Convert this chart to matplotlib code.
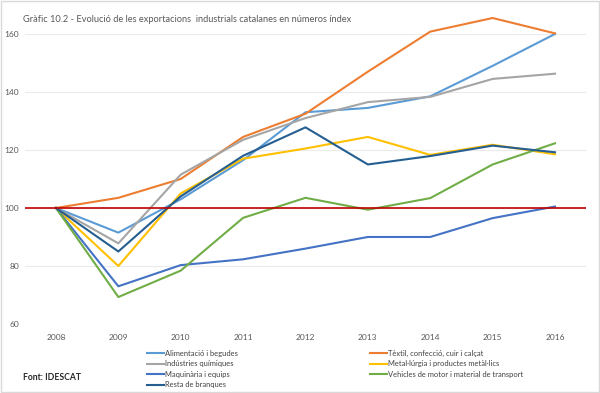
import matplotlib.pyplot as plt
from matplotlib.patches import Rectangle

plt.rcParams['font.family'] = ['Lato', 'DejaVu Sans']

# Dades (números índex, 2008 = 100)
anys = ['2008', '2009', '2010', '2011', '2012', '2013', '2014', '2015', '2016']
alimentacio = [100, 91.5, 103, 116.5, 133, 134.5, 138.5, 149, 160]
textil = [100, 103.5, 110, 124.5, 132.5, 147, 160.8, 165.5, 160.2]
quimiques = [100, 87.8, 111.5, 123.5, 131, 136.5, 138.3, 144.5, 146.3]
metallurgia = [100, 80, 105, 117, 120.5, 124.5, 118.3, 121.8, 118.5]
maquinaria = [100, 73, 80.3, 82.3, 86, 90, 90, 96.5, 100.5]
vehicles = [100, 69.3, 78.4, 96.6, 103.5, 99.4, 103.4, 115, 122.3]
resta = [100, 85, 104, 118, 127.8, 115, 117.9, 121.5, 119.2]

noms = ['Alimentació i begudes', 'Tèxtil, confecció, cuir i calçat',
        'Indústries químiques', 'Metal·lúrgia i productes metàl·lics',
        'Maquinària i equips', 'Vehicles de motor i material de transport',
        'Resta de branques']
colors = ['#5B9BD5', '#ED7D31', '#A5A5A5', '#FFC000', '#4472C4', '#70AD47', '#255E91']
series = [alimentacio, textil, quimiques, metallurgia, maquinaria, vehicles, resta]

fig = plt.figure(figsize=(6, 3.93), dpi=100)
ax = fig.add_axes([0.0413, 0.1756, 0.9357, 0.738])

x = list(range(len(anys)))
linies = []
for s, c, n in zip(series, colors, noms):
    l, = ax.plot(x, s, color=c, lw=1.5, label=n, clip_on=False)
    linies.append(l)

ax.axhline(100, color='#C00000', lw=1.2, zorder=5)

ax.set_xlim(-0.5, len(anys) - 0.5)
ax.set_ylim(60, 160)
ax.set_yticks([60, 80, 100, 120, 140, 160])
ax.set_xticks(x)
ax.set_xticklabels(anys)
ax.tick_params(length=0, labelsize=6, colors='#595959')
ax.tick_params(axis='y', pad=4)
ax.tick_params(axis='x', pad=7)
ax.grid(axis='y', color='#EBEBEB', lw=0.8)
ax.set_axisbelow(True)
for sp in ax.spines.values():
    sp.set_visible(False)

# Títol
fig.text(23 / 600, 1 - 20 / 393, 'Gràfic 10.2 - Evolució de les exportacions  industrials catalanes en números índex',
         fontsize=6.7, color='#595959', va='center', ha='left')

# Llegenda en dues columnes
col1 = [linies[0], linies[2], linies[4], linies[6]]
col2 = [linies[1], linies[3], linies[5]]
for hs, xpos in [(col1, 147), (col2, 370)]:
    lg = fig.legend(handles=hs, labels=[h.get_label() for h in hs],
                    loc='upper left', bbox_to_anchor=(xpos / 600, 1 - 350 / 393),
                    frameon=False, fontsize=5.4, handlelength=2.3, handletextpad=0.1,
                    labelspacing=0.45, borderpad=0, borderaxespad=0)
    for t in lg.get_texts():
        t.set_color('#404040')

fig.text(23 / 600, 1 - 378 / 393, 'Font: IDESCAT', fontsize=6.2, fontweight='bold',
         color='#262626', va='center', ha='left')

# Marc del gràfic
fig.patches.append(Rectangle((0.002, 0.003), 0.996, 0.994, transform=fig.transFigure,
                             fill=False, edgecolor='#D9D9D9', lw=1))

fig.savefig('out.png', dpi=100)
